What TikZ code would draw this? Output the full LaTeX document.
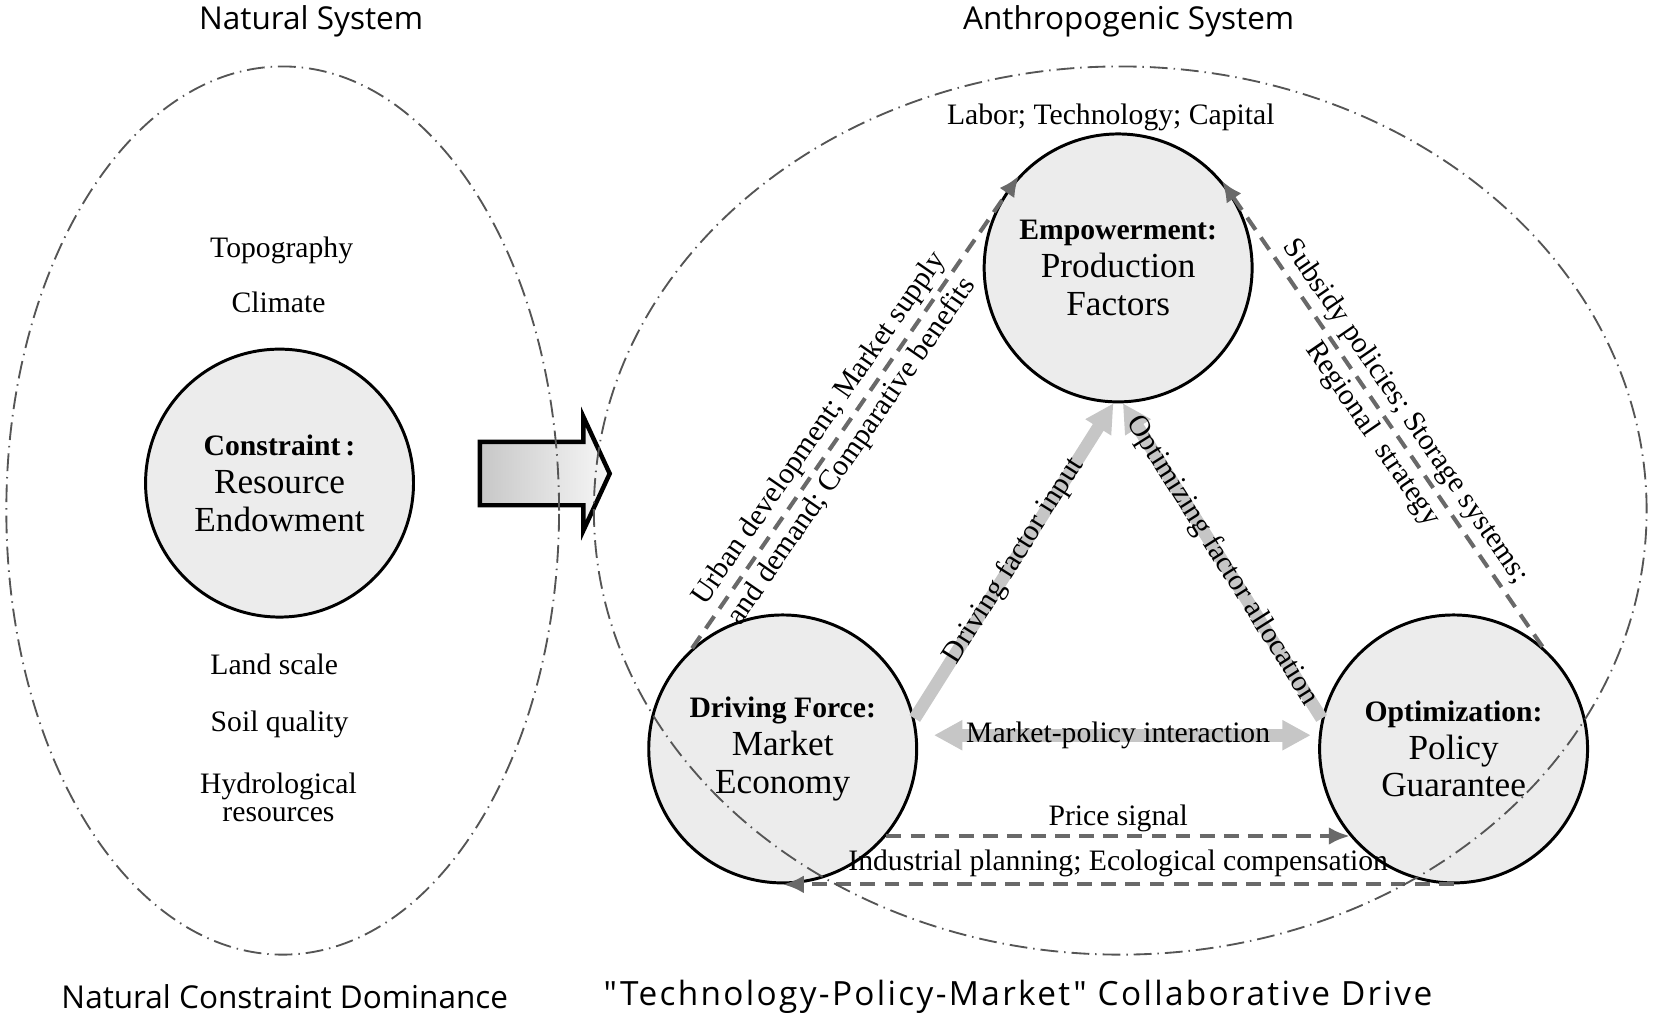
\documentclass[tikz,border=0pt]{standalone}
\usepackage{fontspec}
\setmainfont{Liberation Serif}
\newfontfamily\headfont{Open Sans}
\usepackage{tikz}
\usetikzlibrary{arrows.meta, positioning, calc}
\definecolor{ringgray}{RGB}{85,85,85}
\definecolor{dashgray}{RGB}{105,105,105}
\definecolor{shaftgray}{RGB}{198,198,198}
\definecolor{circfill}{RGB}{236,236,236}
\tikzset{
  factor/.style={circle, draw=black, fill=circfill, minimum size=2.54cm,
    inner sep=0pt, align=center, line width=0.8pt,
    font=\fontsize{9.5}{10.2}\selectfont},
  lbl/.style={font=\fontsize{8}{10}\selectfont, align=center,
    inner sep=1pt, text=black},
  heading/.style={font=\headfont\fontsize{8.5}{10}\selectfont},
  system/.style={dash pattern=on 4.8pt off 1.6pt on 0.4pt off 1.6pt,
    color=ringgray, line width=0.5pt},
  dasharrow/.style={-{Latex[length=0.2cm, width=0.17cm]},
    dash pattern=on 4pt off 2.5pt, line width=1.1pt, color=dashgray},
  grayarrow/.style={-{Triangle[length=0.27cm, width=0.27cm]},
    line width=0.12cm, color=shaftgray},
  dblarrow/.style={{Triangle[length=0.27cm, width=0.27cm]}-{Triangle[length=0.27cm, width=0.27cm]},
    line width=0.12cm, color=shaftgray}
}
\newcommand{\hd}[1]{{\fontsize{8}{10.2}\selectfont\bfseries #1}}

\begin{document}
\begin{tikzpicture}
  \useasboundingbox (0,0) rectangle (15.68,9.79);

  % Titles
  \node[heading] (natsys)    at (2.95,9.59) {Natural System};
  \node[heading] (anthsys)   at (10.70,9.59) {Anthropogenic System};
  \node[heading] (natdom)    at (2.70,0.34) {Natural Constraint Dominance};
  \node[heading, font=\headfont\fontsize{9}{10}\selectfont\addfontfeatures{LetterSpace=7}]
    (colldrive) at (9.65,0.34) {"Technology-Policy-Market" Collaborative Drive};

  % Natural system
  \node[factor] (cons) at (2.65,5.21) {\hd{Constraint\,:}\\Resource\\Endowment};
  \node[lbl] (topo)  at (2.67,7.42) {Topography};
  \node[lbl] (clim)  at (2.64,6.92) {Climate};
  \node[lbl] (land)  at (2.60,3.49) {Land scale};
  \node[lbl] (soil)  at (2.65,2.92) {Soil quality};
  \node[lbl, font=\fontsize{8}{7.6}\selectfont] (hydro) at (2.64,2.23) {Hydrological\\resources};

  % Transfer arrow
  \shade[left color=black!22, right color=black!3, draw=black, line width=1.2pt, line join=miter]
    (4.55,5.00) -- (5.53,5.00) -- (5.53,4.76) -- (5.78,5.30) -- (5.53,5.84)
    -- (5.53,5.60) -- (4.55,5.60) -- cycle;

  % Anthropogenic system
  \node[factor] (prod) at (10.60,7.25) {\hd{Empowerment:}\\Production\\Factors};
  \node[factor] (mkt)  at (7.42,2.69)  {\hd{Driving Force:}\\Market\\Economy};
  \node[factor] (pol)  at (13.78,2.69) {\hd{Optimization:}\\Policy\\Guarantee};
  \node[lbl] (inputs) at (10.53,8.68) {Labor; Technology; Capital};

  % Factor flows
  \draw[grayarrow] (mkt.13) -- node[lbl, sloped] (drvlbl) {Driving factor input} (prod.-92);
  \draw[grayarrow] (pol.167) -- node[lbl, sloped] (optlbl) {Optimizing factor allocation} (prod.-88);
  \draw[dblarrow, shorten <=0.15cm, shorten >=0.07cm] ([yshift=0.13cm]mkt.east)
    -- node[lbl] (mplbl) {Market-policy interaction} ([yshift=0.13cm]pol.west);

  % Feedback links
  \draw[dasharrow] (mkt.132) -- node[lbl, sloped, pos=0.44, font=\fontsize{8}{10.8}\selectfont] (urblbl)
    {Urban development; Market supply\\and demand; Comparative benefits} (prod.137);
  \draw[dasharrow] (pol.49) -- node[lbl, sloped, pos=0.48, font=\fontsize{8}{10.8}\selectfont] (sublbl)
    {Subsidy policies; Storage systems;\\Regional\ \ strategy} (prod.40);
  \draw[dasharrow] (mkt.-40) -- node[lbl, above=-0.5pt] (pricelbl) {Price signal} (pol.-140);
  \draw[dasharrow] (pol.south) -- node[lbl, above=0.5pt] (indlbl)
    {Industrial planning; Ecological compensation} (mkt.south);

  % System boundaries
  \draw[system] (2.68,4.95) ellipse [x radius=2.62, y radius=4.21];
  \draw[system] (10.62,4.95) ellipse [x radius=4.99, y radius=4.21];
\end{tikzpicture}
\end{document}
